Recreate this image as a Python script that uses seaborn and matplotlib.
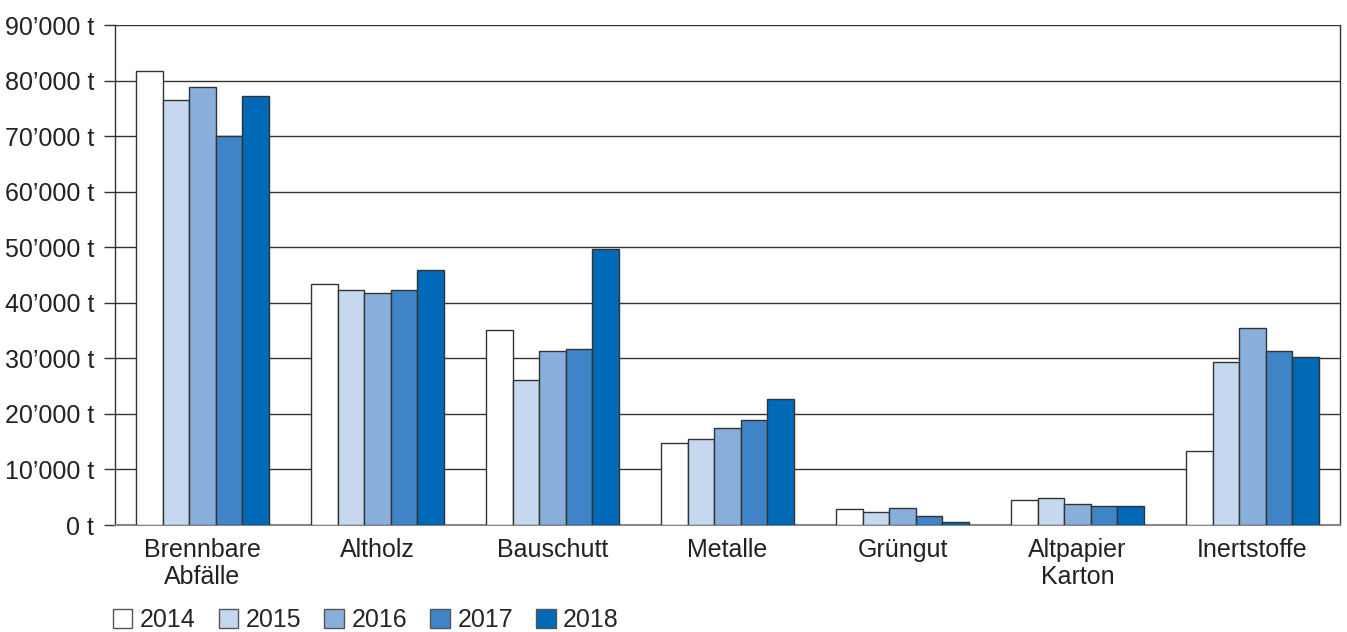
import numpy as np
import pandas as pd
import matplotlib
matplotlib.use('Agg')
import matplotlib.pyplot as plt
import seaborn as sns

categories = ['Brennbare\nAbfälle', 'Altholz', 'Bauschutt', 'Metalle',
              'Grüngut', 'Altpapier\nKarton', 'Inertstoffe']
years = ['2014', '2015', '2016', '2017', '2018']

# tonnes per year and category
v2014 = [81700, 43400, 35100, 14800, 2800, 4500, 13400]
v2015 = [76500, 42300, 26100, 15400, 2400, 4900, 29400]
v2016 = [78900, 41800, 31300, 17500, 3100, 3800, 35500]
v2017 = [70000, 42300, 31700, 18900, 1700, 3500, 31300]
v2018 = [77200, 45900, 49700, 22700, 600, 3500, 30300]

colors = ['#ffffff', '#c6d8f0', '#88afdc', '#3f84c6', '#006ab8']
yticks = list(range(0, 90001, 10000))
ytick_labels = ['0 t'] + [f"{t // 1000}’000 t" for t in yticks[1:]]

rows = []
for yr, vals in zip(years, [v2014, v2015, v2016, v2017, v2018]):
    for cat, v in zip(categories, vals):
        rows.append({'Kategorie': cat, 'Jahr': yr, 'Menge': v})
df = pd.DataFrame(rows)

sns.set_style('white')
plt.rcParams['font.family'] = ['Liberation Sans', 'DejaVu Sans']
fs = 18

fig = plt.figure(figsize=(13.47, 6.32), dpi=100)
ax = fig.add_axes([0.0854, 0.1693, 0.9094, 0.7911])

sns.barplot(data=df, x='Kategorie', y='Menge', hue='Jahr', order=categories,
            hue_order=years, palette=colors, width=0.76, edgecolor='#333333',
            linewidth=1.0, saturation=1, ax=ax, legend=True, zorder=3)

ax.set_ylim(0, 90000)
ax.set_xlim(-0.5, len(categories) - 0.5)
ax.set_yticks(yticks)
ax.set_yticklabels(ytick_labels, fontsize=fs, color='#222222')
ax.yaxis.grid(True, color='#333333', linewidth=1.0, zorder=0)
ax.set_axisbelow(True)

ax.set_xticks(range(len(categories)))
ax.set_xticklabels(categories, fontsize=fs, color='#222222', linespacing=1.2)
ax.set_xticks(np.arange(-0.5, len(categories) + 0.5, 1), minor=True)
ax.tick_params(axis='x', which='major', length=0, pad=9)
ax.tick_params(axis='x', which='minor', length=8, width=1.0, color='#333333', direction='out')
ax.tick_params(axis='y', length=8, width=1.0, color='#333333', direction='out', pad=7, left=True)

ax.set_xlabel('')
ax.set_ylabel('')
for s in ['left', 'right']:
    ax.spines[s].set_color('#333333')
    ax.spines[s].set_linewidth(1.0)
ax.spines['top'].set_visible(False)
ax.spines['bottom'].set_color('#888888')
ax.spines['bottom'].set_linewidth(1.5)

handles, labels = ax.get_legend_handles_labels()
for h in handles:
    h.set_edgecolor('#555555')
ax.legend(handles, labels, loc='upper left', bbox_to_anchor=(-0.002, -0.166),
          ncol=5, frameon=False, fontsize=fs, handlelength=0.78, handleheight=0.78,
          handletextpad=0.3, columnspacing=0.93, borderaxespad=0, borderpad=0)

fig.savefig('out.png', dpi=100)
